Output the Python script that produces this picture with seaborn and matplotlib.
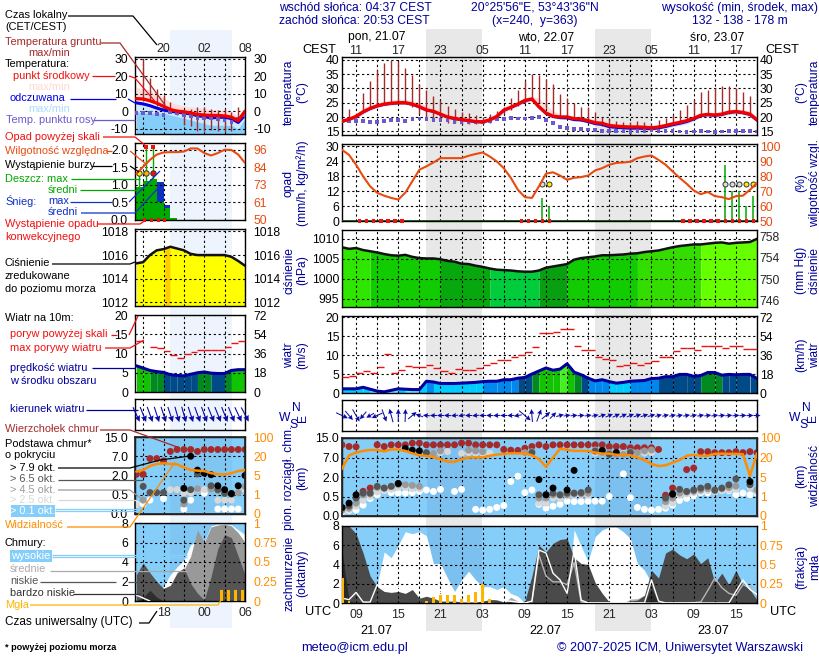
import numpy as np
import seaborn as sns
import matplotlib
matplotlib.use("Agg")
import matplotlib.pyplot as plt
from matplotlib.patches import Rectangle

N = np.nan
W, H = 820, 660
# ---------- main panel data (hourly, first value 07 UTC 21.07) ----------
hours = np.arange(60)
temp_mid = [18.5,19.2,20.2,21.8,23.0,23.9,24.5,24.8,25.0,25.0,24.5,23.6,22.5,22.0,21.0,20.0,19.5,19.1,18.8,18.4,
            18.3,19.0,20.2,22.4,23.4,24.5,25.8,26.3,23.6,21.4,20.3,20.0,20.0,19.4,19.3,18.7,18.0,17.8,17.0,16.8,
            16.6,16.5,16.5,16.4,16.2,16.5,17.0,17.6,18.1,18.7,19.5,20.6,20.9,20.7,21.0,21.7,21.9,21.6,21.0,19.0]
temp_feel = [18.4,19.1,20.1,21.7,22.9,23.8,24.4,24.7,24.9,24.9,24.4,23.5,22.4,21.9,20.9,19.9,19.4,19.0,18.7,18.3,
             18.2,18.9,20.1,22.3,23.3,24.4,25.7,26.2,23.5,21.2,20.1,19.7,19.6,19.0,18.9,18.3,17.6,17.3,16.5,16.3,
             16.1,16.0,16.0,15.9,15.8,16.1,16.6,17.2,17.7,18.3,19.2,20.4,20.7,20.5,20.8,21.5,21.8,21.4,20.8,18.8]
temp_hi = [19.2,20.0,21.4,23.0,24.2,25.0,25.6,25.9,26.2,26.2,25.8,25.0,24.0,23.2,22.2,21.0,20.5,20.0,19.6,19.2,
           19.2,20.0,21.2,23.4,24.4,25.5,26.8,27.3,26.6,24.4,22.0,21.0,20.8,20.2,20.1,19.6,19.0,18.6,17.9,17.7,
           17.4,17.3,17.2,17.0,16.9,17.2,17.8,18.5,19.0,19.6,20.3,21.4,21.7,21.5,21.8,22.6,22.8,22.6,22.2,20.0]
temp_lo = [18.0,18.6,19.5,21.0,22.2,23.2,23.9,24.2,24.4,24.4,23.8,22.8,21.8,21.2,20.2,19.4,18.9,18.5,18.2,17.9,
           17.8,18.4,19.4,21.6,22.6,23.8,25.0,25.6,22.8,20.6,19.6,19.2,19.2,18.6,18.4,17.8,17.1,16.8,16.0,15.8,
           15.6,15.5,15.5,15.4,15.3,15.6,16.0,16.6,17.0,17.6,18.6,19.8,20.1,19.9,20.2,20.9,21.0,20.8,20.2,18.2]
dew = [18.5,18.6,18.6,18.5,18.2,18.3,18.6,19.0,18.9,18.7,19.2,19.5,19.2,19.0,19.0,18.8,18.3,18.2,18.2,18.2,
       18.3,18.6,19.2,19.4,19.6,19.5,19.5,19.7,19.9,19.0,17.8,16.6,16.2,15.9,15.7,15.6,15.4,15.2,15.1,15.0,
       14.9,14.8,15.2,15.2,15.3,15.1,15.0,15.0,14.9,14.8,14.9,15.0,14.9,14.7,14.9,15.1,15.2,15.2,15.2,14.9]
ground_hi = [18.5,22.7,20.5,28.5,32.5,36.3,39.0,40.0,39.5,37.3,34.6,31.7,29.5,27.4,26.0,24.0,22.7,21.8,21.3,20.7,
             20.0,21.0,22.0,23.5,26.5,29.5,32.5,35.2,34.8,33.3,31.5,28.0,26.5,24.8,23.6,23.4,21.6,20.1,19.2,18.6,
             18.4,18.2,18.5,18.3,17.6,19.0,19.5,20.7,22.5,24.2,25.9,28.8,29.6,30.0,30.8,31.0,30.3,28.8,27.3,19.0]
ground_lo = [18.5,19.5,20.0,22.0,23.0,24.0,24.5,24.7,25.0,24.8,23.5,21.0,19.5,19.0,18.5,18.0,17.8,17.5,17.5,17.5,
             17.5,18.0,19.0,21.0,22.5,24.0,25.0,26.0,25.0,23.0,21.0,20.5,20.0,19.5,18.5,18.0,17.5,16.8,16.3,16.0,
             15.8,15.7,15.6,15.6,15.7,16.0,16.6,17.3,17.8,18.5,19.3,20.4,20.7,20.5,20.8,21.0,21.5,21.5,20.8,19.0]
humidity = [97.8,94.4,87.8,80.0,73.3,68.9,67.0,65.5,64.4,69.0,76.7,84.4,86.7,89.3,92.2,92.2,92.2,92.2,93.8,95.0,
            96.0,93.3,90.0,85.5,79.0,71.0,66.0,65.5,73.3,81.8,82.7,80.5,77.7,79.0,79.5,80.5,84.0,85.5,87.8,89.0,
            89.3,89.8,92.2,93.3,94.0,91.0,87.8,83.3,79.0,75.0,70.5,68.0,69.5,66.7,66.0,64.7,66.7,67.0,71.0,75.5]
rain_hours = [28.5,29.5,54.5,55.5,56.5,57.5,58.5]
rain_vals = [9.3,6.0,22.7,12.0,12.0,6.0,10.0]
conv_hours = [2.5,3.5,4.5,5.5,6.5,7.5,8.5,25.5,26.5,27.5,28.5,29.5,48.5,49.5,50.5,51.5,52.5,53.5,54.5,55.5,56.5,57.5,58.5]
thunder_hours = [28.5,29.5,54.5,55.5,56.5,57.5,58.5]
thunder_cols = ['#dddddd','#ffee00','#dddddd','#dddddd','#dddddd','#ffee00','#ffee00']
pressure = [1007.9,1007.5,1007.7,1007.2,1006.9,1006.6,1006.2,1005.9,1005.8,1006.0,1005.5,1005.2,1005.1,1005.1,1004.9,1004.5,1004.3,1003.8,1003.7,1003.3,
            1003.0,1002.6,1002.3,1002.2,1002.1,1001.9,1001.8,1001.8,1002.1,1002.8,1003.1,1003.4,1003.7,1004.8,1005.2,1005.4,1005.6,1005.9,1005.9,1006.0,
            1006.1,1006.3,1006.4,1006.7,1006.9,1007.1,1007.5,1007.9,1008.2,1008.4,1008.6,1008.6,1008.8,1009.0,1009.1,1008.8,1009.0,1009.1,1009.2,1010.0]
pressure_edges = [0,4,14,21,28,32,42,51,59]
pressure_shades = ['#2ee600','#10cc00','#07a80d','#00cc3c','#089f10','#10cc00','#33dd00','#66ff00']
wind = [1.1,1.1,1.1,1.5,1.0,0.5,0.3,0.7,1.1,1.0,0.9,0.9,3.1,2.9,2.5,2.5,2.5,2.6,2.7,2.8,
        3.0,3.1,3.1,3.5,3.5,3.9,4.1,5.0,5.8,6.6,6.0,6.3,7.7,5.5,4.8,3.9,3.2,3.5,3.0,2.6,
        2.8,3.1,3.2,3.3,3.8,3.9,4.3,4.3,4.9,4.9,4.4,4.6,5.4,5.4,4.7,4.9,4.8,4.9,4.9,3.8]
gust_hours = np.arange(59) + 0.5
gust = [4.1,4.4,5.4,5.7,5.2,6.8,10.4,5.2,6.0,7.0,6.8,6.8,7.3,6.5,5.7,5.2,6.2,6.0,6.0,6.5,
        7.4,7.9,8.7,8.7,9.4,9.9,10.7,12.0,15.7,15.7,16.0,17.0,16.8,12.5,11.3,11.3,9.4,9.0,8.7,7.0,
        7.5,8.0,7.4,8.0,8.4,9.4,9.6,11.0,11.8,11.8,11.3,12.5,12.5,12.3,11.8,12.3,12.5,11.5,11.5]
arrow_dir = [-25,-50,-60,-130,-150,-155,-70,105,90,88,40,160,175,180,180,178,185,190,180,185,
             180,178,182,180,182,190,-40,95,70,40,45,15,8,5,5,8,12,18,22,25,
             25,22,20,18,15,15,12,12,10,10,12,10,8,8,6,5,5,3,2,0]
arrow_len = [13,12,14,10,9,12,13,14,13,13,11,8,7,7,7,7,7,7,7,7,
             7,7,7,7,7,8,15,13,13,11,9,8,7,7,7,7,7,8,8,8,
             8,8,8,8,8,7,7,7,7,7,7,7,7,7,7,7,7,7,7,7]
cl_top = [12.2,11.5,11.4,0.9,1.15,12.2,11.5,12.2,12.2,12.2,12.9,12.9,12.2,12.2,12.2,12.2,12.2,12.9,12.9,12.2,
          12.2,12.2,12.2,10.3,10.0,9.9,10.8,11.5,12.2,11.5,12.2,12.2,12.2,12.2,12.2,12.2,12.2,12.2,11.5,11.5,
          11.5,11.0,11.0,11.0,11.0,10.3,0.6,1.15,N,3.9,4.3,9.4,9.4,9.0,9.0,9.0,9.4,9.0,9.4,9.0]
cl_79 = [0.22,0.33,0.63,N,N,N,N,N,1.5,10.7,10.0,9.7,N,N,N,N,N,N,N,N,
         N,N,N,N,N,N,N,N,1.8,0.63,1.15,N,1.0,3.7,N,N,N,9.9,N,9.0,
         N,N,N,N,N,N,N,0.7,N,N,N,N,N,N,N,N,N,N,1.65,N]
cl_65 = [0.2,0.26,0.46,0.76,0.76,1.28,1.15,1.28,1.5,N,N,N,9.0,N,N,N,N,N,N,N,
         N,N,N,N,N,N,N,9.0,0.63,0.63,0.76,0.63,0.76,0.76,0.8,1.0,9.6,N,8.3,N,
         N,9.0,N,N,N,N,0.46,0.63,1.05,0.89,1.0,1.15,1.28,1.0,1.15,1.4,1.85,N,1.4,N]
cl_45 = [0.15,0.2,0.33,0.63,0.7,1.2,1.15,1.28,1.4,1.4,1.35,1.28,8.7,8.7,9.7,N,N,N,10.0,9.7,
         9.4,N,N,N,N,N,9.0,9.4,0.46,0.46,0.63,0.6,0.63,0.7,0.7,0.75,10.1,9.0,9.0,8.3,
         8.3,9.4,9.0,9.7,10.1,N,0.37,0.46,0.76,0.85,0.9,1.0,1.1,0.95,1.1,1.2,1.3,N,1.5,1.0]
cl_25 = [0.12,0.16,0.25,0.4,0.5,0.85,0.95,1.05,1.2,1.2,1.1,1.1,N,8.8,9.0,9.4,N,8.7,9.0,8.8,
         8.7,8.8,N,N,N,N,8.7,9.0,0.33,0.33,0.46,0.45,0.55,0.6,0.6,0.6,8.8,8.8,8.8,8.5,
         8.7,9.0,8.8,8.8,9.0,N,0.25,0.33,0.6,0.7,0.8,0.9,0.95,0.85,0.95,1.0,1.05,N,1.2,0.85]
cl_01 = [0.1,0.14,0.15,0.28,0.45,0.63,0.95,0.8,0.76,0.76,0.8,0.89,1.0,0.89,1.05,N,0.89,1.05,N,0.17,
         0.15,0.17,0.22,0.27,1.65,2.2,0.8,1.0,0.3,0.2,0.25,0.3,0.38,0.37,0.37,0.38,0.38,0.38,0.5,N,
         2.8,0.47,0.22,0.17,0.15,0.17,0.2,0.28,0.4,0.45,0.55,0.8,0.78,0.95,0.95,0.95,0.63,0.76,0.63,0.76]
visibility = [11.3,29,40,47,51,51,45,53,53,47,37,29,27,21,18.7,16.8,16.6,18.7,20,20,
              20,27,32,35,37,37,37,29,18.7,12.9,20,56,51,47,47,47,40,36,36,31,
              31,29,20,18,15,13.4,14,16,18,27,31,27,27,35,36,35,35,33,6,37]
cover_high = [0,0,0,0,0,1.9,5.3,4.7,6.0,7.4,7.2,7.4,7.0,4.1,4.1,2.6,1.2,2.4,3.3,2.4,
              1.7,1.7,1.4,1.7,1.0,0.7,0,0,0,0,0,0,0,7.6,5.9,4.3,6.9,7.6,7.9,7.9,
              7.4,6.7,4.1,3.4,2.1,0.2,0,0,0,0,0,0,0,0,0,0,0,0,0,0]
cover_mid = [0,0,0,0,0,0,0,0,0,0,0,0,0,0,0,0,0,0,0,0,
             0,0,0,0,0.6,0.2,0,0,0,0,0,0,0,0,0,0,0,0,0,0,
             0,0.4,0.45,0.8,0,0,0,0,0,0,0,0,0,0,0,0,0,0,0,0]
cover_low = [8,8,7.2,5.2,2.8,1.7,1.2,1.1,1.2,1.0,1.4,0.5,0.7,0.5,0.2,0.2,0.2,0.1,0.1,0.1,
             0.2,0.35,0.35,0.1,0.2,0.1,0.2,2.8,6.0,5.3,6.2,6.6,6.7,4.7,4.1,4.0,2.1,1.0,0.1,0,
             0,0.2,0.3,0.8,3.4,2.6,5.2,5.6,5.0,4.6,5.1,4.1,4.7,2.1,3.1,1.9,3.4,1.9,1.4,0.3]
cover_vlow = [5.5,0.2,0,0,0,0,0,0,0,0,0,0,0,0,0,0,0,0,0,0,
              0,0,0,0,0,0,0,0,0,0,0,0,0,0,0,0,0,0,0,0,
              0,0,0,0,1.5,0,0,0,0,0,0,0,0,0,0,0,0,0,0,0]
line_white = [0.5,0.35,1.1,0.1,0.1,1.9,N,N,N,N,N,N,N,N,N,N,N,N,N,N,
              N,N,N,N,N,N,0,0.2,5.5,5.2,3.1,2.4,1.0,5.5,0.3,0,N,N,N,N,
              N,N,N,0,2.4,0.2,0,N,N,N,N,N,N,0,0,0,1.2,2.4,1.4,0.9]
line_grey = [N,N,N,N,N,N,N,N,N,N,N,N,N,N,N,N,N,N,N,N,
             N,N,N,N,N,N,N,0.1,5.0,2.8,2.2,2.2,1.9,4.2,0.1,0,N,N,N,N,
             N,N,N,N,N,N,N,N,N,0,0.05,0.1,1.3,2.6,1.6,1.0,0.8,1.9,1.8,0.7]
fog_hours = [0.1,1,12,13,14,15,16,17,18,19,20,21]
fog_vals = [0.32,0.03,0.02,0.08,0.1,0.11,0.11,0.05,0.11,0.14,0.25,0.05]

# ---------- legend panel data (hourly, 14..30 UTC) ----------
l_hours = np.arange(14, 31)
l_temp = [7.2,7.0,6.0,4.6,2.8,1.0,0.0,-0.3,-1.0,-1.8,-2.2,-2.4,-2.4,-2.7,-3.4,-5.4,0.0]
l_feel = [4.8,4.2,3.2,1.8,0.7,0.0,-0.5,-1.0,-1.5,-2.6,-3.0,-3.8,-3.5,-3.4,-4.2,-6.4,-2.2]
l_hi = [13.6,13,12,10,8,5,4,3,2.5,2,1.5,1,1,0.5,0,-3,2]
l_lo = [0,-1,-1,-1,-1,-2,-3,-4,-5,-6,-7,-8,-8,-8,-8,-10,-4]
l_dew = [-1,-1,-1,-1.4,-2.3,-0.3,-1,-2,-2.8,-3.8,-3.8,-3.8,-4.4,-5.2,-6,-4.4,-2]
l_ghi = [N,30,19,13,9.5,5.5,1.5,0,1.5,2.3,2.5,1.5,1,1.5,-0.3,2.7,N]
l_glo = [N,6,6,3,1,-1,-2,-8,-8.5,-11,-11,-10.5,-11,-12,-11,-5.6,N]
l_hum = [80.3,85,89.5,93,94.4,94.6,94.6,95,97,97,94,92.4,94,96.2,96,93,87.5]
l_bar_h = [14.4,15.5,16.5,17.5,18.5,19.5]
l_bar_w = [1.2,1,1,1,1,1]
l_rain = [0.95,1.12,1.16,0.52,0.33,0.05]
l_snow = [0,0,0,1.08,0.42,0]
l_storm_h = [14.4,15.45,16.5]
l_press = [1015.3,1015.4,1016,1016.4,1016.5,1016.7,1016.55,1016.4,1016.1,1016,1016,1016,1016,1016,1015.85,1015.5,1015.1]
l_wind = [6.8,6.2,5.6,5.3,5.1,4.5,4.3,4.2,4.6,5.0,5.2,4.9,4.8,4.8,5.6,5.8,5.8]
l_gust_h = [14.5,16.5,17.5,18.5,19.5,20.5,21.5,22.5,23.5,24.5,25.5,26.5,27.5,28.5,29.5]
l_gust = [13.2,11.7,11.5,10.7,9.7,8.9,10,10.5,11,11,10.8,10.8,11.7,12.8,13.2]
l_dir = [-65,-68,-70,-72,-72,-72,-74,-74,-72,-70,-70,-68,-68,-68,-68,-65,-62]
l_top = [2.3,2.3,6.4,6.4,5.8,9.0,9.8,9.8,9.8,9.0,9.8,9.8,9.8,9.8,9.8,9.8,9.8]
l_79 = [N,N,N,N,N,N,N,1.0,7.0,3.4,2.6,2.2,1.2,0.9,0.6,1.2,2.0]
l_65 = [N,1.15,0.67,0.67,0.67,N,N,0.36,0.9,2.4,N,1.2,0.9,0.6,0.55,N,N]
l_45 = [N,0.36,N,N,N,N,N,0.26,N,0.96,N,0.96,0.85,0.7,N,0.66,1.15]
l_25 = [0.24,N,N,N,N,0.9,0.9,0.6,0.65,0.9,0.9,1.0,0.36,0.36,0.36,N,0.9]
l_01 = [0.26,0.26,0.36,N,0.4,N,N,0.13,0.36,N,0.62,N,0.13,0.13,0.13,0.13,N]
l_vis = [8,9.3,12.4,14,14.5,14,13.7,11.4,9.3,8.8,8.5,6.8,6,5.8,6.8,8.5,9.3]
l_high = [0,0,0,0,1.5,2.7,3.5,4.2,5.8,6.0,6.1,7.7,7.9,7.9,7.8,7.3,6.8]
l_mid = [0,0,0,0,0,0,0,3.2,4.6,7.3,6.0,7.6,7.8,7.9,7.7,7.0,6.0]
l_low = [2.7,3.9,2.9,2.0,1.3,1.6,2.9,3.4,1.8,0.8,0.1,2.5,5.4,6.8,6.5,4.6,2.7]
l_vlow = [0,0.4,1.1,0.4,0,0,0,0,0,0,0,0,0,0,0,0,0]
l_lwhite = [0.6,0.3,0,N,N,N,N,N,N,N,N,N,N,N,N,N,N]
l_fog_h = [26.6,27.6,28.6,29.6]
l_fog = [0.14,0.14,0.14,0.14]

# ---------- tick labels ----------
grid_h = np.arange(2, 60, 3)
local_lab = ['11','','17','','23','','05','','11','','17','','23','','05','','11','','17','']
utc_lab = ['09','','15','','21','','03','','09','','15','','21','','03','','09','','15','']
l_grid = [15,18,21,24,27,30]
l_local = ['','20','','02','','08']
l_utc = ['','18','','00','','06']
base_ticks = [0,0.5,2,7,15]
vis_ticks = [0,1,5,20,100]

BLUE = '#00009c'; ORANGE = '#ff8c00'; HUM = '#e84a10'; SKY = '#86cefa'; DKRED = '#a52a2a'
sns.set_theme(style='white')
plt.rcParams['font.family'] = ['Liberation Sans', 'DejaVu Sans']
plt.rcParams['font.size'] = 8.7
fig = plt.figure(figsize=(W/100, H/100), dpi=100, facecolor='white')

bg = fig.add_axes([0, 0, 1, 1], zorder=-5); bg.set_xlim(0, W); bg.set_ylim(H, 0); bg.axis('off')
for a, b in [(426.5, 482), (595.5, 651.5)]:
    bg.add_patch(Rectangle((a, 29), b-a, 602, color='#e8e8e8', lw=0))
bg.add_patch(Rectangle((170, 30), 62, 598, color='#eef4fd', lw=0))

def panel(x0, x1, y0, y1):
    ax = fig.add_axes([x0/W, 1-y1/H, (x1-x0)/W, (y1-y0)/H])
    ax.patch.set_alpha(0)
    for s in ax.spines.values():
        s.set_linewidth(1.0); s.set_color('black')
    ax.set_axisbelow(False)
    return ax

def dress(ax, xlim, grid_x, yticks, ylabels, pad, col='black', ylim=None):
    ax.set_xlim(*xlim)
    if ylim: ax.set_ylim(*ylim)
    ax.set_xticks(grid_x); ax.set_xticklabels([])
    ax.set_yticks(yticks); ax.set_yticklabels(ylabels, fontsize=8.7, color=col)
    ax.tick_params(length=0, pad=pad, which='both')
    ax.minorticks_off()
    ax.grid(True, color='black', ls=(0, (2, 2.4)), lw=0.8)

def right_labels(ax, lim, ticks, labels, pad, col='black'):
    t = ax.twinx(); t.patch.set_alpha(0)
    t.set_ylim(*lim); t.set_yticks(ticks); t.set_yticklabels(labels, fontsize=8.7, color=col)
    t.tick_params(length=0, pad=pad); t.grid(False)
    for s in t.spines.values(): s.set_visible(False)
    return t

def line(ax, x, y, color, lw, z=4):
    sns.lineplot(x=list(x), y=y, ax=ax, color=color, lw=lw, errorbar=None, sort=False, zorder=z, legend=False)
    ax.set_xlabel(''); ax.set_ylabel('')

def dots(ax, x, y, color, s=24, marker='o', ec='none', z=5, clip=True):
    sns.scatterplot(x=list(x), y=y, ax=ax, color=color, s=s, marker=marker, edgecolor=ec, linewidth=0.7 if ec != 'none' else 0,
                    zorder=z, legend=False, clip_on=clip)
    ax.set_xlabel(''); ax.set_ylabel('')

def wind_color(v):
    for lim, c in [(1.0,'#66e6ff'),(3.0,'#00ccff'),(3.9,'#0088ee'),(4.95,'#004a88'),(5.6,'#008a20'),(7.0,'#12c400'),(99,'#44f020')]:
        if v < lim: return c

def draw_temp(ax, x, mid, feel, hi, lo, dewv, ghi, glo, left=False):
    ax.fill_between(x, hi, mid, color='#ffdcdc', lw=0, zorder=1)
    if left:
        ax.fill_between(x, lo, feel, color='#cfe9ff', lw=0, zorder=1)
        ax.fill_between(x, -13, lo, color=SKY, lw=0, zorder=1)
    else:
        ax.fill_between(x, lo, mid, color='#cfe0ff', lw=0, zorder=1)
    ax.vlines(x, glo, ghi, color=DKRED, lw=1.0, zorder=3)
    dots(ax, x, dewv, '#6a5acd', s=7, marker='s')
    line(ax, x, feel, '#0000e0', 2.2 if left else 1.8, 4)
    line(ax, x, mid, '#f00000', 2.4, 5)

def draw_wind(ax, x, vals):
    for i in range(len(x)-1):
        m = 0.5*(vals[i]+vals[i+1])
        ax.fill_between(x[i:i+2], 0, vals[i:i+2], color=wind_color(m), lw=0, zorder=1)
    line(ax, x, vals, BLUE, 2.2, 4)

def base_scale(ticks):
    pos = np.arange(5.0)
    return (lambda v: np.interp(v, ticks, pos), lambda p: np.interp(p, pos, ticks))

def draw_clouds(ax, x, series):
    cols = [DKRED, 'black', '#555555', '#9a9a9a', '#d8d8d8', 'white']
    order = [0, 5, 4, 3, 2, 1]
    for k in order:
        dots(ax, x, series[k], cols[k], s=25, z=5+0.1*order.index(k))

MX = (0, 59); LX = (13.8, 30)
# ---------- main: temperature ----------
ax = panel(342, 757, 57, 135)
draw_temp(ax, hours, temp_mid, temp_feel, temp_hi, temp_lo, dew, ground_hi, ground_lo)
dress(ax, MX, grid_h, [15,20,25,30,35,40], ['15','20','25','30','35','40'], 2, ylim=(13.7, 41))
ax.tick_params(axis='x', top=False, labeltop=True, labelbottom=False, pad=0)
ax.set_xticklabels(local_lab, fontsize=8.9)
right_labels(ax, (13.7, 41), [15,20,25,30,35,40], ['15','20','25','30','35','40'], 2)

# ---------- main: precipitation ----------
ax = panel(342, 757, 144, 221)
ax.vlines(rain_hours, 0, rain_vals, color='#00aa00', lw=1.1, zorder=3)
ax.hlines(0, 0, 59, color='#005000', lw=1.2, zorder=3)
dots(ax, conv_hours, [0]*len(conv_hours), '#f01010', s=7, marker='s', clip=False)
for hx, cx in zip(thunder_hours, thunder_cols):
    dots(ax, [hx], [15], cx, s=13, ec='#333333', z=6)
dress(ax, MX, grid_h, [0,6,12,18,24,30], ['0','6','12','18','24','30'], 2, ylim=(0, 31))
t = right_labels(ax, (50, 101.7), [50,60,70,80,90,100], ['50','60','70','80','90','100'], 2, HUM)
line(t, hours, humidity, HUM, 1.5, 6)

# ---------- main: pressure ----------
ax = panel(342, 757, 230, 307)
hh = np.asarray(hours, float); pv = np.asarray(pressure)
for i, c in enumerate(pressure_shades):
    m = (hh >= pressure_edges[i]) & (hh <= pressure_edges[i+1])
    ax.fill_between(hh[m], 990, pv[m], color=c, lw=0, zorder=1)
line(ax, hours, pressure, '#111111', 1.8, 4)
dress(ax, MX, grid_h, [995,1000,1005,1010], ['995','1000','1005','1010'], 2, ylim=(993.0, 1012.2))
r = ax.secondary_yaxis('right', functions=(lambda v: v*0.75006, lambda m: m/0.75006))
r.set_yticks([746,750,754,758]); r.set_yticklabels(['746','750','754','758'], fontsize=8.7)
r.tick_params(length=0, pad=2); r.spines['right'].set_visible(False)

# ---------- main: wind ----------
ax = panel(342, 757, 316, 393)
draw_wind(ax, np.asarray(hours, float), wind)
ax.hlines(gust, gust_hours-0.5, gust_hours+0.5, color='#f01010', lw=1.0, zorder=5)
dress(ax, MX, grid_h, [0,5,10,15,20], ['0','5','10','15','20'], 2, ylim=(0, 20.3))
right_labels(ax, (0, 20.3*3.6), [0,18,36,54,72], ['0','18','36','54','72'], 2)

# ---------- main: wind direction ----------
ax = panel(342, 757, 400, 431)
ang = np.deg2rad(arrow_dir); ln = np.asarray(arrow_len, float)
ax.quiver(hours, np.zeros(60), ln*np.cos(ang), ln*np.sin(ang), angles='uv', scale_units='dots', scale=1, units='dots',
          width=1.0, headwidth=5, headlength=5, headaxislength=4.5, pivot='mid', color='#0a0aa8', clip_on=False, zorder=4)
dress(ax, MX, grid_h, [], [], 2, ylim=(-1, 1))

# ---------- main: cloud base & visibility ----------
ax = panel(342, 757, 438, 516)
ax.patch.set_alpha(1); ax.set_facecolor(SKY)
ax.set_yscale('function', functions=base_scale(base_ticks))
ax.axvspan(12.05, 19.9, color='#5a8fc8', alpha=0.22, lw=0, zorder=1)
ax.axvspan(36, 44, color='#5a8fc8', alpha=0.22, lw=0, zorder=1)
draw_clouds(ax, hours, [cl_top, cl_79, cl_65, cl_45, cl_25, cl_01])
dress(ax, MX, grid_h, base_ticks, ['0.0','0.5','2.0','7.0','15.0'], 2, ylim=(0, 15))
t = ax.twinx(); t.patch.set_alpha(0); t.set_yscale('function', functions=base_scale(vis_ticks))
line(t, hours, visibility, ORANGE, 1.8, 4)
t.set_ylim(0, 100); t.set_yticks(vis_ticks); t.set_yticklabels(['0','1','5','20','100'], fontsize=8.7, color=ORANGE)
t.minorticks_off(); t.tick_params(length=0, pad=2, which='both'); t.grid(False)

# ---------- main: cloud cover & fog ----------
ax = panel(342, 757, 526, 603)
ax.patch.set_alpha(1); ax.set_facecolor(SKY)
ax.axvspan(12.05, 19.9, color='#5a8fc8', alpha=0.22, lw=0, zorder=0.5)
ax.axvspan(36, 44, color='#5a8fc8', alpha=0.22, lw=0, zorder=0.5)
ax.fill_between(hours, 0, cover_high, color='white', lw=0, zorder=1)
ax.fill_between(hours, 0, cover_mid, color='#aaaaaa', lw=0, zorder=1.1)
ax.fill_between(hours, 0, cover_low, color='#4a4a4a', lw=0, zorder=1.2)
ax.fill_between(hours, 0, cover_vlow, color='#2a2a2a', lw=0, zorder=1.3)
line(ax, hours, line_grey, '#b5b5b5', 1.0, 3)
line(ax, hours, line_white, 'white', 1.0, 3.1)
dress(ax, MX, grid_h, [0,2,4,6,8], ['0','2','4','6','8'], 2, ylim=(0, 8))
ax.tick_params(axis='x', labelbottom=True, pad=4)
ax.set_xticklabels(utc_lab, fontsize=8.9)
t = right_labels(ax, (0, 1), [0,0.25,0.5,0.75,1], ['0','0.25','0.5','0.75','1'], 2, ORANGE)
t.bar(fog_hours, fog_vals, width=0.35, color='#ffb400', lw=0, zorder=5)

# ---------- legend: temperature ----------
LP = (135, 245)
ax = panel(*LP, 57, 134)
draw_temp(ax, l_hours, l_temp, l_feel, l_hi, l_lo, l_dew, l_ghi, l_glo, left=True)
tl = [-10,0,10,20,30]; tt = ['-10','0','10','20','30']
dress(ax, LX, l_grid, tl, tt, 5, ylim=(-13, 31))
ax.tick_params(axis='x', top=False, labeltop=True, labelbottom=False, pad=1.5)
ax.set_xticklabels(l_local, fontsize=8.9)
right_labels(ax, (-13, 31), tl, tt, 6)

# ---------- legend: precipitation ----------
ax = panel(*LP, 143, 220)
ax.bar(l_bar_h, l_snow, width=l_bar_w, color='#1030c0', lw=0, zorder=1)
ax.bar(l_bar_h, l_rain, width=l_bar_w, color='#00aa00', lw=0, zorder=1.1)
ax.vlines(l_storm_h, [0.95,1.12,1.16], [1.33,2.08,2.08], color='#00aa00', lw=1.0, zorder=3)
for hx, cx in zip(l_storm_h, ['#ffee00','#ffb000','#f01010']):
    dots(ax, [hx], [1.33], cx, s=15, ec='#333333', z=6)
dots(ax, l_storm_h[1:], [2.08,2.08], '#f01010', s=9, marker='s')
dots(ax, [15.2,16.2,17.2,18.2], [0,0,0,0], '#f01010', s=5, marker='s', clip=False)
dress(ax, LX, l_grid, [0,0.5,1,1.5,2], ['0.0','0.5','1.0','1.5','2.0'], 5, ylim=(0, 2.2))
t = right_labels(ax, (50, 50+2.2*23), [50,61.5,73,84.5,96], ['50','61','73','84','96'], 6, HUM)
line(t, l_hours, l_hum, HUM, 1.5, 6)

# ---------- legend: pressure ----------
ax = panel(*LP, 229, 306)
ax.fill_between(l_hours, 1010, l_press, color='#ffff00', lw=0, zorder=1)
sx = np.array([18.2, 18.95])
ax.fill_between(sx, 1010, np.interp(sx, l_hours, l_press), color='#ffcc00', lw=0, zorder=1.1)
line(ax, l_hours, l_press, '#111111', 1.8, 4)
pt = [1012,1014,1016,1018]; pl = ['1012','1014','1016','1018']
dress(ax, LX, l_grid, pt, pl, 5, ylim=(1011.7, 1018.2))
right_labels(ax, (1011.7, 1018.2), pt, pl, 6)

# ---------- legend: wind ----------
ax = panel(*LP, 315, 392)
draw_wind(ax, np.asarray(l_hours, float), l_wind)
ax.hlines(l_gust, np.asarray(l_gust_h)-0.5, np.asarray(l_gust_h)+0.5, color='#f01010', lw=1.0, zorder=5)
dress(ax, LX, l_grid, [0,5,10,15,20], ['0','5','10','15','20'], 5, ylim=(0, 20))
right_labels(ax, (0, 72), [0,18,36,54,72], ['0','18','36','54','72'], 6)

# ---------- legend: wind direction ----------
ax = panel(*LP, 399, 430)
ang = np.deg2rad(l_dir); ln = np.full(17, 16.0)
ax.quiver(l_hours, np.zeros(17), ln*np.cos(ang), ln*np.sin(ang), angles='uv', scale_units='dots', scale=1, units='dots',
          width=1.1, headwidth=5.5, headlength=5.5, headaxislength=5, pivot='mid', color='#0a0aa8', clip_on=False, zorder=4)
dress(ax, LX, l_grid, [], [], 5, ylim=(-1, 1))

# ---------- legend: cloud base ----------
ax = panel(*LP, 437, 514)
ax.patch.set_alpha(1); ax.set_facecolor(SKY)
ax.set_yscale('function', functions=base_scale(base_ticks))
ax.axvspan(18.9, 28.05, color='#5a8fc8', alpha=0.12, lw=0, zorder=1)
draw_clouds(ax, l_hours, [l_top, l_79, l_65, l_45, l_25, l_01])
dress(ax, LX, l_grid, base_ticks, ['0.0','0.5','2.0','7.0','15.0'], 5, ylim=(0, 15))
t = ax.twinx(); t.patch.set_alpha(0); t.set_yscale('function', functions=base_scale(vis_ticks))
line(t, l_hours, l_vis, ORANGE, 1.8, 4)
t.set_ylim(0, 100); t.set_yticks(vis_ticks); t.set_yticklabels(['0','1','5','20','100'], fontsize=8.7, color=ORANGE)
t.minorticks_off(); t.tick_params(length=0, pad=6, which='both'); t.grid(False)

# ---------- legend: cloud cover ----------
ax = panel(*LP, 523, 601)
ax.patch.set_alpha(1); ax.set_facecolor(SKY)
ax.axvspan(18.9, 28.05, color='#5a8fc8', alpha=0.12, lw=0, zorder=0.5)
ax.fill_between(l_hours, 0, l_high, color='white', lw=0, zorder=1)
ax.fill_between(l_hours, 0, l_mid, color='#999999', lw=0, zorder=1.1)
ax.fill_between(l_hours, 0, l_low, color='#555555', lw=0, zorder=1.2)
ax.fill_between(l_hours, 0, l_vlow, color='#2e2e2e', lw=0, zorder=1.3)
line(ax, l_hours, l_lwhite, 'white', 1.0, 3)
dress(ax, LX, l_grid, [0,2,4,6,8], ['0','2','4','6','8'], 5, ylim=(0, 8))
ax.tick_params(axis='x', labelbottom=True, pad=4)
ax.set_xticklabels(l_utc, fontsize=8.9)
t = right_labels(ax, (0, 1), [0,0.25,0.5,0.75,1], ['0','0.25','0.5','0.75','1'], 6, ORANGE)
t.bar(l_fog_h, l_fog, width=0.45, color='#ffb400', lw=0, zorder=5)

# ---------- overlay text and leader lines ----------
fg = fig.add_axes([0, 0, 1, 1], zorder=20); fg.set_xlim(0, W); fg.set_ylim(H, 0); fg.axis('off'); fg.patch.set_alpha(0)
TS = [8.7]
def T(x, y, s, c='black', ha='left', **kw):
    kw.setdefault('fontsize', TS[0])
    fg.text(x, y, s, color=c, ha=ha, va='center', **kw)
def L(pts, c='black', lw=0.9):
    xs, ys = zip(*pts); fg.plot(xs, ys, color=c, lw=lw, solid_capstyle='butt')

# header
T(279, 8, 'wschód słońca: 04:37 CEST', BLUE); T(279, 21, 'zachód słońca: 20:53 CEST', BLUE)
T(535, 8, '20°25\'56"E, 53°43\'36"N', BLUE, 'center'); T(535, 21, '(x=240,  y=363)', BLUE, 'center')
T(740, 8, 'wysokość (min, środek, max)', BLUE, 'center'); T(740, 21, '132 - 138 - 178 m', BLUE, 'center')
T(377, 37, 'pon, 21.07', ha='center'); T(546, 37, 'wto, 22.07', ha='center'); T(717, 37, 'śro, 23.07', ha='center')
T(319, 50, 'CEST', ha='center', fontsize=9.2); T(782, 50, 'CEST', ha='center', fontsize=9.2)
T(318, 612, 'UTC', ha='center', fontsize=9.2); T(783, 612, 'UTC', ha='center', fontsize=9.2)
T(376, 631, '21.07', ha='center', fontsize=9.2); T(545, 631, '22.07', ha='center', fontsize=9.2); T(713, 631, '23.07', ha='center', fontsize=9.2)
T(355, 648, 'meteo@icm.edu.pl', BLUE, 'center', fontsize=9.2)
T(680, 648, '© 2007-2025 ICM, Uniwersytet Warszawski', BLUE, 'center', fontsize=9.2)
T(5, 647, '* powyżej poziomu morza', 'black', fontsize=6.6, fontweight='bold')

def V(x, y, s, c=BLUE):
    fg.text(x, y, s, color=c, rotation=90, ha='center', va='center', fontsize=8.7, linespacing=1.15, multialignment='center')
V(296, 92, 'temperatura\n(°C)'); V(808, 92, '(°C)\ntemperatura')
V(296, 183, 'opad\n(mm/h, kg/m²/h)'); V(808, 183, '(%)\nwilgotność wzgl.')
V(296, 270, 'ciśnienie\n(hPa)'); V(808, 270, '(mm Hg)\nciśnienie')
V(296, 355, 'wiatr\n(m/s)'); V(808, 355, '(km/h)\nwiatr')
V(296, 478, 'pion. rozciągł. chm.\n(km)'); V(808, 476, '(km)\nwidzialność')
V(296, 573, 'zachmurzenie\n(oktanty)'); V(808, 567, '(frakcja)\nmgła')
for x0 in (285, 795):
    T(x0, 418, 'W', BLUE, ha='center'); T(x0+11, 408, 'N', BLUE, ha='center')
    T(x0+8, 425, 'S', BLUE, ha='center'); T(x0+18, 418, 'E', BLUE, ha='center', rotation=90)

TS[0] = 7.9
RED = '#f01010'; GRN = '#00a800'; BL2 = '#1030c8'; VIO = '#6a5acd'
T(5, 15, 'Czas lokalny'); T(5, 27, '(CET/CEST)'); L([(68,16),(133,16),(157,45)])
T(5, 42, 'Temperatura gruntu', DKRED); T(28, 53, 'max/min', DKRED); L([(101,43),(120,43),(165,105)], DKRED)
T(5, 64, 'Temperatura:')
T(13, 76, 'punkt środkowy', RED); L([(92,76),(115,76)], RED); L([(129,76),(135,78),(158,105)], RED)
T(28, 87, 'max/min', '#ffd8d0')
T(10, 98, 'odczuwana', '#0000e0'); L([(70,99),(116,99)], '#0000e0'); L([(128,99),(135,103)], '#0000e0')
T(28, 109, 'max/min', '#a8dcff')
T(6, 120, 'Temp. punktu rosy', VIO); L([(93,120),(135,120)], VIO)
T(5, 137, 'Opad powyżej skali', RED); L([(103,137),(135,137),(146,146)], RED)
T(5, 151, 'Wilgotność względna', HUM); L([(106,151),(112,151)], HUM); L([(130,151),(146,164)], HUM)
T(5, 165, 'Wystąpienie burzy'); L([(92,166),(112,166)]); L([(130,166),(139,172)])
T(5, 179, 'Deszcz: max', GRN); L([(71,179),(140,179)], GRN)
T(48, 190, 'średni', GRN); L([(80,190),(138,190)], GRN)
T(5, 201, 'Śnieg:', BL2); T(48, 201, 'max', BL2); L([(70,202),(112,202)], BL2); L([(129,202),(160,171)], BL2)
T(48, 212, 'średni', BL2); L([(81,213),(135,213),(160,186)], BL2)
T(5, 224, 'Wystąpienie opadu', RED); L([(97,224),(140,224),(146,220)], RED); T(5, 237, 'konwekcyjnego', RED)
T(5, 263, 'Ciśnienie'); L([(52,264),(130,264),(135,262)]); T(5, 276, 'zredukowane'); T(5, 289, 'do poziomu morza')
T(5, 318, 'Wiatr na 10m:')
T(10, 334, 'poryw powyżej skali', RED); L([(111,335),(117,335)], RED); L([(129,335),(138,316)], RED)
T(10, 348, 'max porywy wiatru', RED); L([(105,348),(130,348),(144,340)], RED)
T(10, 368, 'prędkość wiatru', BLUE); L([(92,368),(135,368)], BLUE); T(10, 381, 'w środku obszaru', BLUE)
T(10, 409, 'kierunek wiatru', BLUE); L([(86,410),(138,410)], BLUE)
T(5, 429, 'Wierzchołek chmur', DKRED); L([(100,430),(130,430),(180,448)], DKRED)
T(5, 444, 'Podstawa chmur*'); T(5, 455, 'o pokryciu')
T(10, 468, '> 7.9 okt.'); L([(58,468),(130,468),(160,460),(190,456)])
T(10, 479, '> 6.5 okt.', '#555555'); L([(58,480),(143,480)], '#555555')
T(10, 490, '> 4.5 okt.', '#9a9a9a'); L([(58,490),(130,490),(143,500)], '#9a9a9a')
T(10, 500, '> 2.5 okt.', '#d8d8d8'); L([(58,500),(136,500)], '#d8d8d8')
fg.add_patch(Rectangle((11, 505), 44, 12, color=SKY, lw=0))
T(10, 511, '> 0.1 okt.', 'white'); L([(55,509),(140,509)], SKY); L([(55,511),(140,511)], SKY)
T(5, 525, 'Widzialność', ORANGE); L([(67,527),(130,527),(175,462)], ORANGE)
T(5, 543, 'Chmury:')
fg.add_patch(Rectangle((10, 550), 42, 12, color=SKY, lw=0))
T(11, 556, 'wysokie', 'white'); L([(52,555),(187,555)], SKY); L([(52,557),(187,557)], SKY)
T(10, 569, 'średnie', '#aaaaaa'); L([(50,571),(187,571)], '#aaaaaa')
T(10, 581, 'niskie', '#555555'); L([(40,582),(116,582)], '#555555'); L([(128,582),(140,582)], '#555555')
T(10, 593, 'bardzo niskie', '#333333'); L([(73,594),(140,594)], '#333333')
T(5, 605, 'Mgła', '#ffb400'); L([(30,605),(218,605),(221,600)], '#ffb400')
T(5, 622, 'Czas uniwersalny (UTC)', fontsize=8.5); L([(139,623),(149,623),(157,611)])

fig.savefig('out.png', dpi=100)
